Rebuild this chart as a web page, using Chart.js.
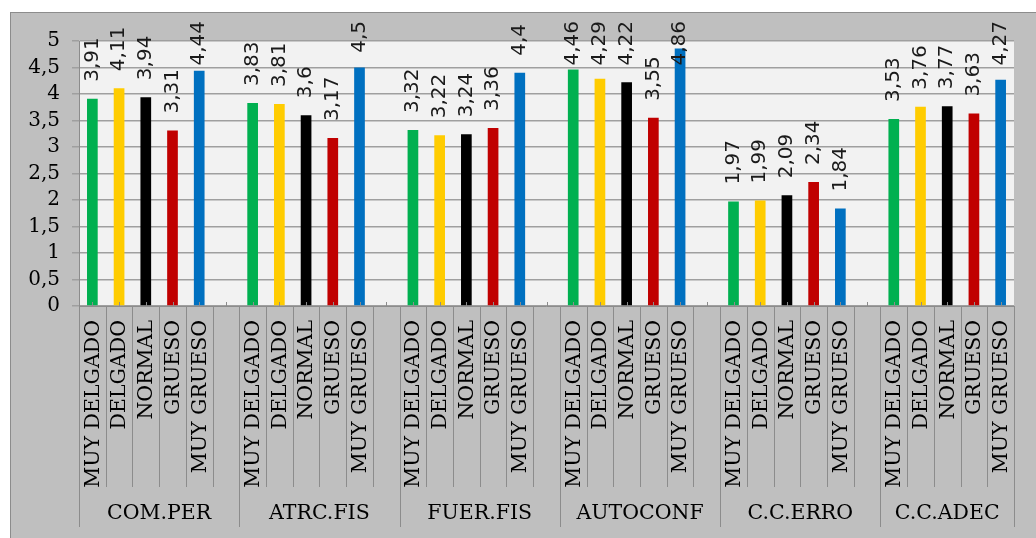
<!DOCTYPE html>
<html>
<head>
<meta charset="utf-8">
<title>Chart</title>
<script src="https://cdn.jsdelivr.net/npm/chart.js@4.4.1/dist/chart.umd.min.js"></script>
<style>
    html, body { margin: 0; padding: 0; background: #ffffff; overflow: hidden; }
    #frame { position: absolute; left: 10px; top: 12px; width: 1040px; height: 540px; background: #bfbfbf; border-left: 1px solid #8c8c8c; border-top: 1px solid #8c8c8c; }
    #myChart { position: absolute; left: 0; top: 0; }
</style>
</head>
<body>
<div id="frame"></div>
<canvas id="myChart" width="1036" height="538"></canvas>
<script>
// categories
const groups = ['COM.PER', 'ATRC.FIS', 'FUER.FIS', 'AUTOCONF', 'C.C.ERRO', 'C.C.ADEC'];
const levels = ['MUY DELGADO', 'DELGADO', 'NORMAL', 'GRUESO', 'MUY GRUESO'];
const levelColors = ['#00b050', '#ffcc00', '#000000', '#c00000', '#0070c0'];

// values per group (same order as levels)
const comPer = [3.91, 4.11, 3.94, 3.31, 4.44];
const atrcFis = [3.83, 3.81, 3.6, 3.17, 4.5];
const fuerFis = [3.32, 3.22, 3.24, 3.36, 4.4];
const autoconf = [4.46, 4.29, 4.22, 3.55, 4.86];
const ccErro = [1.97, 1.99, 2.09, 2.34, 1.84];
const ccAdec = [3.53, 3.76, 3.77, 3.63, 4.27];
const groupValues = [comPer, atrcFis, fuerFis, autoconf, ccErro, ccAdec];

// y axis
const yMin = 0;
const yMax = 5;
const yStep = 0.5;

// build the slot list: 5 bars per group and an empty slot between groups
var labels = [];
var values = [];
var colors = [];
var groupStart = [];
groups.forEach(function (g, gi) {
    groupStart.push(labels.length);
    levels.forEach(function (lv, li) {
        labels.push(lv);
        values.push(groupValues[gi][li]);
        colors.push(levelColors[li]);
    });
    if (gi < groups.length - 1) {
        labels.push('');
        values.push(null);
        colors.push('rgba(0,0,0,0)');
    }
});
groupStart.push(labels.length);

function fmt(v) {
    return String(v).replace('.', ',');
}

const serif = "'DejaVu Serif', serif";
const sans = "'DejaVu Sans', sans-serif";

// plot area fill
const plotBg = {
    id: 'plotBg',
    beforeDraw: function (chart) {
        var a = chart.chartArea;
        var ctx = chart.ctx;
        ctx.save();
        ctx.fillStyle = '#f2f2f2';
        ctx.fillRect(a.left, a.top, a.right - a.left, a.bottom - a.top);
        ctx.restore();
    }
};

// multi level category axis: ticks, dividers, labels
const xAxisDecor = {
    id: 'xAxisDecor',
    afterDraw: function (chart) {
        var ctx = chart.ctx;
        var x = chart.scales.x;
        var a = chart.chartArea;
        var slot = (a.right - a.left) / labels.length;
        ctx.save();
        ctx.strokeStyle = '#8c8c8c';
        ctx.lineWidth = 1;

        // axis line
        ctx.beginPath();
        ctx.moveTo(a.left, Math.round(a.bottom) + 0.5);
        ctx.lineTo(a.right, Math.round(a.bottom) + 0.5);
        ctx.stroke();

        // small ticks pointing into the plot
        for (var i = 0; i < labels.length; i++) {
            var px = Math.round(x.getPixelForValue(i)) + 0.5;
            ctx.beginPath();
            ctx.moveTo(px, a.bottom);
            ctx.lineTo(px, a.bottom - 4);
            ctx.stroke();
        }

        // divider lines, long ones between groups
        for (var b = 0; b <= labels.length; b++) {
            var bx = Math.round(a.left + b * slot) + 0.5;
            var isGroup = groupStart.indexOf(b) !== -1;
            ctx.beginPath();
            ctx.moveTo(bx, a.bottom);
            ctx.lineTo(bx, isGroup ? a.bottom + 221 : a.bottom + 181);
            ctx.stroke();
        }

        // level labels, rotated
        ctx.fillStyle = '#000000';
        ctx.font = '20.5px ' + serif;
        for (var j = 0; j < labels.length; j++) {
            if (!labels[j]) continue;
            ctx.save();
            ctx.translate(x.getPixelForValue(j) + 1, a.bottom + 14);
            ctx.rotate(-Math.PI / 2);
            ctx.textAlign = 'right';
            ctx.textBaseline = 'middle';
            ctx.fillText(labels[j], 0, 0);
            ctx.restore();
        }

        // group labels
        ctx.textAlign = 'center';
        ctx.textBaseline = 'middle';
        for (var g = 0; g < groups.length; g++) {
            var x0 = a.left + groupStart[g] * slot;
            var x1 = a.left + groupStart[g + 1] * slot;
            ctx.fillText(groups[g], (x0 + x1) / 2, a.bottom + 208);
        }
        ctx.restore();
    }
};

// value labels above the bars, rotated
const valueLabels = {
    id: 'valueLabels',
    afterDatasetsDraw: function (chart) {
        var ctx = chart.ctx;
        var meta = chart.getDatasetMeta(0);
        ctx.save();
        ctx.fillStyle = '#1a1a1a';
        ctx.font = '20px ' + sans;
        ctx.textAlign = 'left';
        ctx.textBaseline = 'middle';
        meta.data.forEach(function (bar, i) {
            var v = values[i];
            if (v === null) return;
            var text = fmt(v);
            var w = ctx.measureText(text).width;
            var bottom = bar.y - 17;
            if (bottom - w < 21) bottom = 21 + w;
            ctx.save();
            ctx.translate(bar.x, bottom);
            ctx.rotate(-Math.PI / 2);
            ctx.fillText(text, 0, 0);
            ctx.restore();
        });
        ctx.restore();
    }
};

var ctx = document.getElementById('myChart');
new Chart(ctx, {
    type: 'bar',
    data: {
        labels: labels,
        datasets: [{
            data: values,
            backgroundColor: colors,
            borderWidth: 0,
            barPercentage: 0.4,
            categoryPercentage: 1.0
        }]
    },
    options: {
        responsive: false,
        animation: false,
        events: [],
        layout: {
            padding: { top: 41, right: 22, left: 0, bottom: 0 }
        },
        plugins: {
            legend: { display: false },
            tooltip: { enabled: false }
        },
        scales: {
            x: {
                offset: true,
                grid: { display: false },
                border: { display: false },
                ticks: { display: false },
                afterFit: function (scale) { scale.height = 232; }
            },
            y: {
                min: yMin,
                max: yMax,
                grid: {
                    color: '#9f9f9f',
                    lineWidth: 1.5,
                    tickLength: 7
                },
                border: { color: '#8c8c8c', width: 1 },
                ticks: {
                    stepSize: yStep,
                    autoSkip: false,
                    padding: 12,
                    color: '#000000',
                    font: { family: serif, size: 20 },
                    callback: function (v) { return fmt(v); }
                },
                afterFit: function (scale) { scale.width = 79; }
            }
        }
    },
    plugins: [plotBg, xAxisDecor, valueLabels]
});
</script>
</body>
</html>
